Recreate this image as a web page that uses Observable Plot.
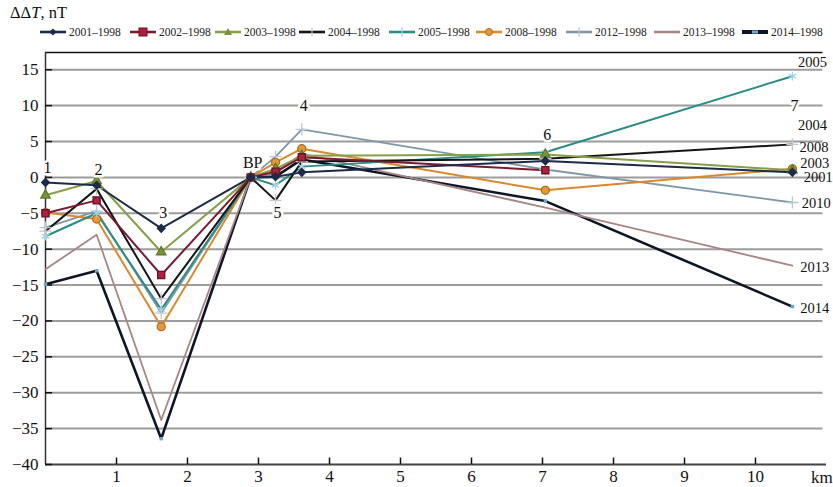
<!DOCTYPE html>
<html>
<head>
<meta charset="utf-8">
<script src="https://cdn.jsdelivr.net/npm/d3@7"></script>
<script src="https://cdn.jsdelivr.net/npm/@observablehq/plot@0.6"></script>
<style>
  html, body { margin: 0; padding: 0; background: #fff; }
  #wrap { position: relative; width: 833px; height: 487px; overflow: hidden; font-family: "Liberation Serif", "DejaVu Serif", serif; }
  #title { position: absolute; left: 10px; top: 3px; font-size: 16.5px; color: #111; }
  #legend { position: absolute; left: 0; top: 26px; width: 833px; height: 14px; font-size: 11.5px; color: #222; white-space: nowrap; }
  #legend .item { position: absolute; top: 0; display: flex; align-items: center; }
  #legend svg { margin-right: 3px; }
  #chart { position: absolute; left: 0; top: 0; }
</style>
</head>
<body>
<div id="wrap">
  <div id="chart"></div>
  <div id="title">ΔΔ<i>T</i>, nT</div>
  <div id="legend"></div>
</div>
<script>
// distances of the profile points (km) and their names
const pointX = [0, 0.72, 1.63, 2.89, 3.24, 3.61, 7.04, 10.52];
const pointNames = ["1", "2", "3", "BP", "5", "4", "6", "7"];
const pointNameY = [1.3, 1.1, -5, 2.0, -5, 10, 5.9, 10];

// series names
const seriesNames = ["2001–1998", "2002–1998", "2003–1998", "2004–1998", "2005–1998", "2008–1998", "2012–1998", "2013–1998", "2014–1998"];

// values (nT) at each profile point
const v2001 = [-0.7, -1.1, -7.1, 0, 0.1, 0.7, 2.3, 0.7];
const v2002 = [-5.0, -3.2, -13.6, 0, 0.8, 2.8, 1.0, null];
const v2003 = [-2.5, -0.5, -10.4, 0, 1.2, 3.0, 3.2, 1.0];
const v2004 = [-7.5, -1.6, -16.9, 0, -3.2, 2.2, 2.6, 4.6];
const v2005 = [-8.2, -5.0, -18.4, 0, -1.1, 1.5, 3.5, 14.1];
const v2008 = [-4.9, -5.8, -20.8, 0, 2.1, 4.0, -1.8, 1.2];
const v2012 = [-7.0, -4.7, -18.9, 0, 2.9, 6.7, 1.1, -3.5];
const v2013 = [-12.8, -8.0, -33.8, 0, 0.5, 3.3, -4.2, -12.3];
const v2014 = [-14.9, -13.0, -36.4, 0, 0.1, 2.5, -3.3, -18.0];

// end labels on the right
const endLabels = ["2005", "2004", "2008", "2003", "2001", "2010", "2013", "2014"];
const endLabelY = [16.0, 7.3, 4.2, 2.0, 0.0, -3.6, -12.6, -18.2];
const endLabelX = [10.6, 10.6, 10.62, 10.63, 10.68, 10.65, 10.63, 10.63];

// axis ticks
const yTicks = [-40, -35, -30, -25, -20, -15, -10, -5, 0, 5, 10, 15];
const xTicks = [1, 2, 3, 4, 5, 6, 7, 8, 9, 10];

// legend item left edges (px)
const legendLeft = [40, 130, 215, 299, 389, 476, 566, 654, 742];

const seriesValues = [v2001, v2002, v2003, v2004, v2005, v2008, v2012, v2013, v2014];
const styles = [
  {color: "#1d2b4a", width: 2, symbol: "diamond2", r: 3.5, fill: "#1d2b4a", mstroke: "#1d2b4a"},
  {color: "#7a1a33", width: 2, symbol: "square2", r: 4.5, fill: "#b0203c", mstroke: "#6a1028"},
  {color: "#86a04a", width: 2, symbol: "triangle2", r: 4.5, fill: "#7a9438", mstroke: "#5d7a28"},
  {color: "#151515", width: 2, symbol: "plus", r: 4, fill: "none", mstroke: "#c8c8c8"},
  {color: "#2a8c86", width: 2, symbol: "asterisk", r: 4, fill: "none", mstroke: "#9fd3ea"},
  {color: "#d88a2c", width: 2, symbol: "circle", r: 4, fill: "#e59a3a", mstroke: "#b06a1a"},
  {color: "#7e98a8", width: 1.8, symbol: "plus", r: 4, fill: "none", mstroke: "#b8c8d2"},
  {color: "#a88686", width: 1.8, symbol: null},
  {color: "#0e1626", width: 2.6, symbol: "square2", r: 2.2, fill: "#6aa8d0", mstroke: "none"}
];

const drawOrder = [8, 7, 6, 5, 4, 3, 2, 1, 0];

const lineMarks = [];
const dotMarks = [];
for (const i of drawOrder) {
  const rows = pointX.map((x, j) => ({x, y: seriesValues[i][j]})).filter(d => d.y != null);
  const s = styles[i];
  lineMarks.push(Plot.line(rows, {x: "x", y: "y", stroke: s.color, strokeWidth: s.width, strokeLinejoin: "round"}));
  if (s.symbol) {
    dotMarks.push(Plot.dot(rows, {x: "x", y: "y", symbol: s.symbol, r: s.r, fill: s.fill, stroke: s.mstroke, strokeWidth: 1.3}));
  }
}

const pointLabelRows = pointX.map((x, j) => ({x, y: pointNameY[j], t: pointNames[j]}));
const endRows = endLabels.map((t, j) => ({t, x: endLabelX[j], y: endLabelY[j]}));

const chart = Plot.plot({
  width: 833,
  height: 487,
  marginLeft: 45,
  marginRight: 7,
  marginTop: 52,
  marginBottom: 23,
  x: {domain: [0, 11], axis: null},
  y: {domain: [-40, 17.4], axis: null},
  style: {fontFamily: "Liberation Serif, DejaVu Serif, serif", background: "transparent", color: "#111"},
  marks: [
    // gridlines
    Plot.ruleY(yTicks.filter(t => t > -40), {x1: 0, x2: 10.95, stroke: "#9c9c9c", strokeWidth: 2}),
    // frame: top, left, bottom
    Plot.ruleY([17.4], {x1: 0, x2: 10.95, stroke: "#111", strokeWidth: 1.5}),
    Plot.ruleX([0], {y1: -40, y2: 17.4, stroke: "#333", strokeWidth: 1.5}),
    Plot.ruleY([-40], {x1: 0, x2: 11, stroke: "#444", strokeWidth: 2}),
    // inward ticks
    Plot.ruleY(yTicks, {x1: 0, x2: 0.1, stroke: "#111", strokeWidth: 1.5}),
    Plot.ruleX(xTicks, {y1: -40, y2: -39.1, stroke: "#111", strokeWidth: 1.5}),
    Plot.axisY({ticks: yTicks, tickSize: 0, tickPadding: 7, fontSize: 17, label: null}),
    Plot.axisX({ticks: xTicks, tickSize: 0, tickPadding: 5, fontSize: 17, label: null}),
    Plot.text(["km"], {x: 10.78, y: -40, dy: 13, textAnchor: "start", fontSize: 17, text: d => d}),
    ...lineMarks,
    ...dotMarks,
    // point names
    Plot.text(pointLabelRows, {x: "x", y: "y", text: "t", fontSize: 16, fill: "#111", stroke: "white", strokeWidth: 5, paintOrder: "stroke", dx: 2}),
    // end labels
    Plot.text(endRows, {x: "x", y: "y", text: "t", textAnchor: "start", fontSize: 14.5, fill: "#111"})
  ]
});
document.getElementById("chart").appendChild(chart);

// legend
const legend = document.getElementById("legend");
seriesNames.forEach((name, i) => {
  const s = styles[i];
  const item = document.createElement("div");
  item.className = "item";
  item.style.left = legendLeft[i] + "px";
  const w = 26;
  let marker = "";
  const cx = w / 2, cy = 5;
  if (s.symbol === "diamond2") marker = `<path d="M${cx},${cy-3.5}L${cx+3.5},${cy}L${cx},${cy+3.5}L${cx-3.5},${cy}Z" fill="${s.fill}"/>`;
  else if (s.symbol === "square2" && i === 1) marker = `<rect x="${cx-4}" y="${cy-4}" width="8" height="8" fill="${s.fill}" stroke="${s.mstroke}"/>`;
  else if (s.symbol === "square2") marker = `<rect x="${cx-3}" y="${cy-1.5}" width="6" height="3" fill="${s.fill}"/>`;
  else if (s.symbol === "triangle2") marker = `<path d="M${cx},${cy-4}L${cx+4},${cy+3}L${cx-4},${cy+3}Z" fill="${s.fill}"/>`;
  else if (s.symbol === "plus" || s.symbol === "asterisk") marker = `<path d="M${cx},${cy-4.5}V${cy+4.5}" stroke="${s.mstroke}" stroke-width="1.3"/>`;
  else if (s.symbol === "circle") marker = `<circle cx="${cx}" cy="${cy}" r="3.5" fill="${s.fill}" stroke="${s.mstroke}"/>`;
  item.innerHTML = `<svg width="${w}" height="10"><line x1="0" y1="${cy}" x2="${w}" y2="${cy}" stroke="${s.color}" stroke-width="${i === 8 ? 4 : 2.6}"/>${marker}</svg><span>${name}</span>`;
  legend.appendChild(item);
});
</script>
</body>
</html>
